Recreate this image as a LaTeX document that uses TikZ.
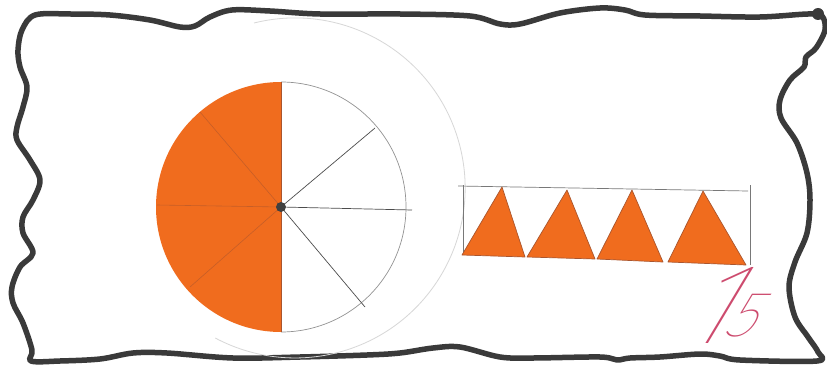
\documentclass[tikz,border=0pt]{standalone}
\usepackage{fontspec}
\IfFontExistsTF{Fira Sans Thin}{\newfontfamily\thinfont{Fira Sans Thin}}{%
  \IfFontExistsTF{FiraSans-Thin.otf}{\newfontfamily\thinfont{FiraSans-Thin.otf}}{\newfontfamily\thinfont{Fira Sans}}}
\definecolor{frame}{RGB}{58,58,58}
\definecolor{fillorange}{RGB}{240,108,30}
\definecolor{edgeorange}{RGB}{170,85,45}
\definecolor{pencil}{RGB}{120,120,120}
\definecolor{faint}{RGB}{215,215,215}
\definecolor{inkpink}{RGB}{205,75,110}
\tikzset{
  border/.style={draw=frame, line width=5.5pt, line join=round, line cap=round},
  pencilline/.style={draw=pencil, line width=0.7pt},
  spokeorange/.style={draw=edgeorange, line width=0.6pt, opacity=0.6},
  trianglebox/.style={fill=fillorange, draw=edgeorange, line width=0.7pt, line join=round},
}
\begin{document}
\begin{tikzpicture}[x=1pt,y=-1pt]
\useasboundingbox (0,0) rectangle (827,369);
\fill[white] (0,0) rectangle (827,369);
% wavy frame
\draw[border] plot[smooth cycle, tension=0.55] coordinates {
 (35,15) (70,14) (110,15) (150,20) (180,27) (195,26) (210,17) (232,10) (270,11) (320,14) (400,14)
 (470,16) (500,24) (520,24) (560,13) (600,8) (625,10) (645,15) (700,16) (760,17) (808,14)
 (822,16) (825,30) (816,48) (806,57) (804,67) (790,80) (780,100) (781,118) (797,143) (807,173)
 (810,200) (807,233) (795,262) (789,287) (795,317) (808,337) (818,352) (817,361)
 (740,360) (720,356) (700,354) (660,357) (630,358) (617,360) (600,357) (533,358) (500,357)
 (460,347) (433,348) (400,353) (367,355) (300,357) (233,358) (167,353) (133,353) (100,359)
 (60,361) (31,361) (32,350) (23,323) (13,303) (12,287) (20,267) (33,253) (23,233) (23,217)
 (33,200) (40,180) (30,160) (17,140) (17,127) (23,107) (27,87) (20,67) (18,50) (22,30)};
\fill[frame] (818,14) circle[radius=6pt];
% faint large arc
\draw[faint, line width=0.8pt] (254,23) arc[start angle=104, end angle=-118, radius=170pt];
% half-filled circle
\coordinate (c) at (281,207);
\fill[fillorange] (281,82) arc[start angle=90, end angle=270, radius=125pt] -- cycle;
\draw[pencilline, draw=pencil!80] (281,82) arc[start angle=90, end angle=-90, radius=125pt];
\draw[spokeorange] (c) -- (200,112);
\draw[spokeorange] (c) -- (157,205);
\draw[spokeorange] (c) -- (190,287);
\draw[pencilline, draw=edgeorange] (281,82) -- (281,332);
\draw[pencilline, draw=black!70] (c) -- (375,128);
\draw[pencilline, draw=black!70] (c) -- (412,210);
\draw[pencilline, draw=black!70] (c) -- (365,307);
\fill[black!75] (c) circle[radius=5pt];
% strip of triangles
\coordinate (rtl) at (458,186);
\coordinate (rtr) at (748,191);
\draw[pencilline] (rtl) -- (rtr);
\draw[pencilline] (463,185) -- (463,255);
\draw[pencilline] (750,185) -- (750,265);
\draw[trianglebox] (462,255) -- (502,187) -- (525,257) -- cycle;
\draw[trianglebox] (527,257) -- (567,190) -- (595,259) -- cycle;
\draw[trianglebox] (597,259) -- (632,190) -- (663,262) -- cycle;
\draw[trianglebox] (668,262) -- (703,191) -- (746,265) -- cycle;
% handwritten mark
\node[inkpink, anchor=base west, inner sep=0pt, xslant=0.6] (mark) at (678,343)
  {\thinfont{\fontsize{115}{115}\selectfont 1}\kern -6pt\raisebox{7pt}{\fontsize{64}{64}\selectfont 5}};
\end{tikzpicture}
\end{document}
